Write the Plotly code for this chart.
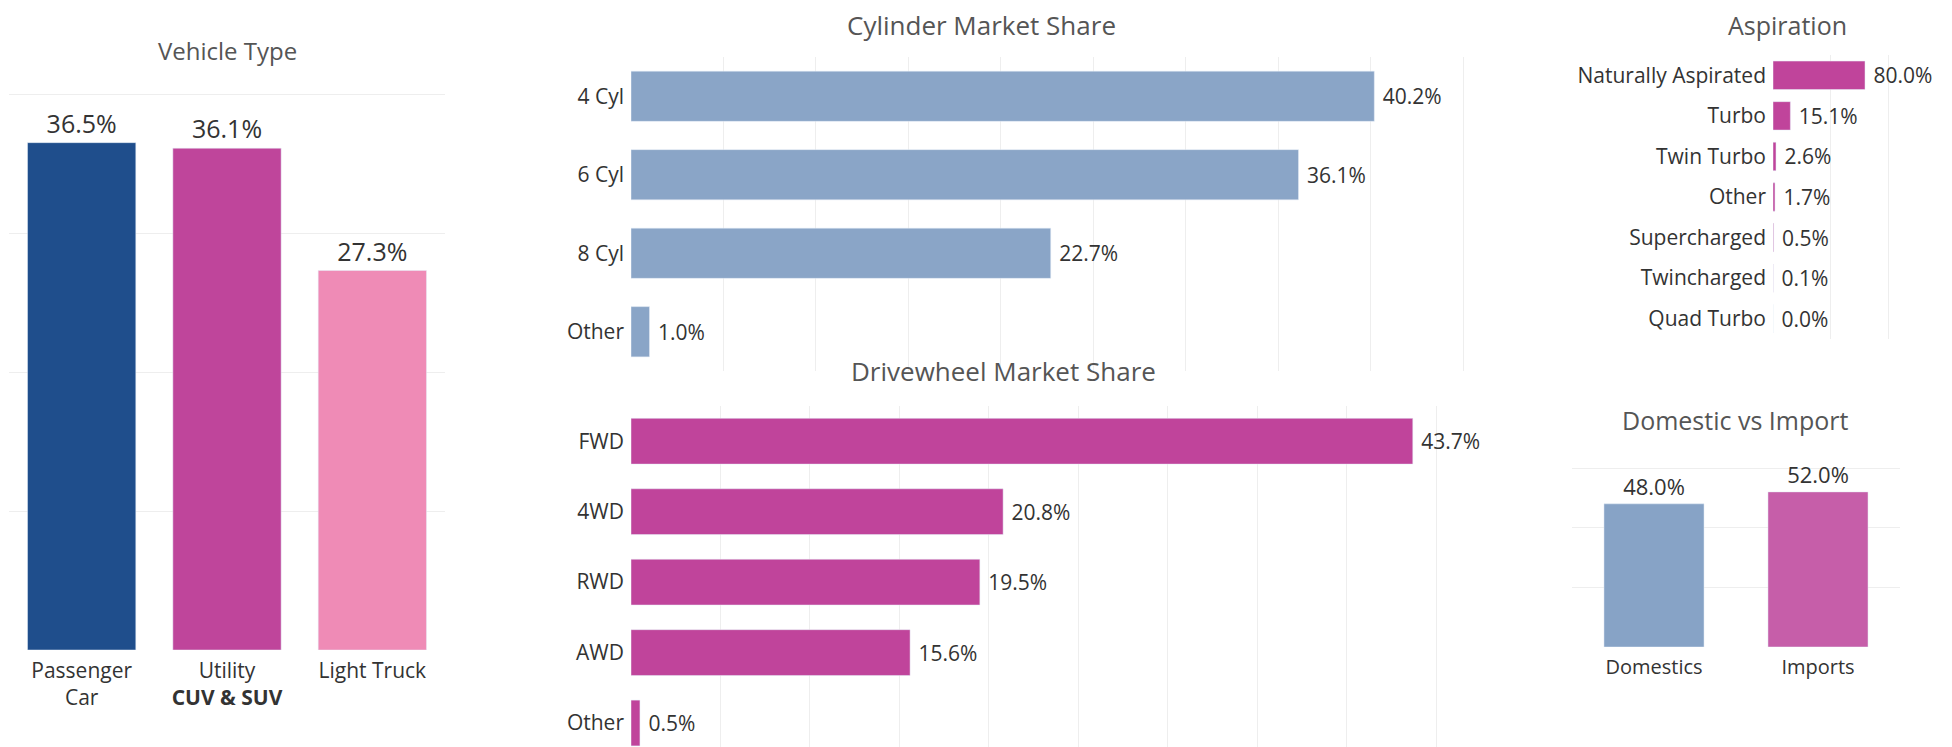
import plotly.graph_objects as go

# ---- data ----
vehicle_types = ["Passenger Car", "Utility", "Light Truck"]
vehicle_labels = ["Passenger<br>Car", "Utility<br><b>CUV & SUV</b>", "Light Truck"]
vehicle_share = [36.5, 36.1, 27.3]

cylinders = ["4 Cyl", "6 Cyl", "8 Cyl", "Other"]
cylinder_share = [40.2, 36.1, 22.7, 1.0]

drivewheels = ["FWD", "4WD", "RWD", "AWD", "Other"]
drivewheel_share = [43.7, 20.8, 19.5, 15.6, 0.5]

aspirations = ["Naturally Aspirated", "Turbo", "Twin Turbo", "Other",
               "Supercharged", "Twincharged", "Quad Turbo"]
aspiration_share = [80.0, 15.1, 2.6, 1.7, 0.5, 0.1, 0.0]

origins = ["Domestics", "Imports"]
origin_share = [48.0, 52.0]

# ---- styling ----
W, H = 1952, 747
OFF = 8  # default body margin of the html page
FONT = "Open Sans, Arial, sans-serif"
TEXT = "#333333"
TITLE = "#555555"
GRID = "#eeeeee"
vehicle_colors = ["#1f4e8c", "#bf459b", "#ef8bb6"]
origin_colors = ["#87a3c6", "#c65ea9"]


def px_x(p):
    return (p - OFF) / W


def px_y(p):
    return 1 - (p - OFF) / H


def pct(vals, pad=""):
    return [f"{pad}{v:.1f}%" for v in vals]


NB = "\u00a0"

fig = go.Figure()

fig.add_trace(go.Bar(
    x=vehicle_types, y=vehicle_share, marker_color=vehicle_colors, width=0.745,
    text=pct(vehicle_share), textposition="outside", constraintext="none",
    textfont=dict(size=25, color=TEXT), cliponaxis=False,
    xaxis="x", yaxis="y", hoverinfo="skip",
))
fig.add_trace(go.Bar(
    x=cylinder_share, y=cylinders, orientation="h", marker_color="#8aa5c7", width=0.64,
    text=pct(cylinder_share, NB), textposition="outside", constraintext="none",
    textfont=dict(size=21, color=TEXT), cliponaxis=False,
    xaxis="x2", yaxis="y2", hoverinfo="skip",
))
fig.add_trace(go.Bar(
    x=drivewheel_share, y=drivewheels, orientation="h", marker_color="#c0449b", width=0.65,
    text=pct(drivewheel_share, NB), textposition="outside", constraintext="none",
    textfont=dict(size=21, color=TEXT), cliponaxis=False,
    xaxis="x3", yaxis="y3", hoverinfo="skip",
))
fig.add_trace(go.Bar(
    x=aspiration_share, y=aspirations, orientation="h", marker_color="#c0449b", width=0.7,
    text=pct(aspiration_share, NB), textposition="outside", constraintext="none",
    textfont=dict(size=21, color=TEXT), cliponaxis=False,
    xaxis="x4", yaxis="y4", hoverinfo="skip",
))
fig.add_trace(go.Bar(
    x=origins, y=origin_share, marker_color=origin_colors, width=0.61,
    text=pct(origin_share), textposition="outside", constraintext="none",
    textfont=dict(size=22, color=TEXT), cliponaxis=False,
    xaxis="x5", yaxis="y5", hoverinfo="skip",
))

hidden = dict(showticklabels=False, ticks="", showline=False, zeroline=False)
grid = dict(showgrid=True, gridcolor=GRID, gridwidth=1)
cat_ticks = dict(showgrid=False, zeroline=False, showline=False, ticks="",
                 tickfont=dict(size=21, color=TEXT), ticklabelstandoff=6)

fig.update_layout(
    width=W, height=H,
    margin=dict(l=0, r=0, t=0, b=0),
    paper_bgcolor="white", plot_bgcolor="white",
    font=dict(family=FONT, color=TEXT),
    showlegend=False,
    # Vehicle Type: 0 at y=650, 40 at y=94
    xaxis=dict(domain=[px_x(9), px_x(445)], anchor="y", **cat_ticks,
               tickvals=vehicle_types, ticktext=vehicle_labels),
    yaxis=dict(domain=[px_y(650), px_y(650 - 41 * 13.9)], anchor="x", range=[0, 41],
               tickvals=[0, 10, 20, 30, 40], **hidden, **grid),
    # Cylinder: 0 at x=631, 45 at x=1463
    xaxis2=dict(domain=[px_x(631), px_x(631 + 45.5 * 18.49)], anchor="y2",
                range=[0, 45.5], tickvals=list(range(0, 46, 5)), **hidden, **grid),
    yaxis2=dict(domain=[px_y(371), px_y(57)], anchor="x2", autorange="reversed",
                **cat_ticks),
    # Drivewheel: 0 at x=631, 45 at x=1436
    xaxis3=dict(domain=[px_x(631), px_x(631 + 45.5 * 17.89)], anchor="y3",
                range=[0, 45.5], tickvals=list(range(0, 46, 5)), **hidden, **grid),
    yaxis3=dict(domain=[0, px_y(406)], anchor="x3",
                range=[(H + OFF - 441) / 70.5, -0.5], **cat_ticks),
    # Aspiration: 0 at x=1773, 100 at x=1888
    xaxis4=dict(domain=[px_x(1773), px_x(1773 + 102 * 1.15)], anchor="y4",
                range=[0, 102], tickvals=[0, 50, 100], **hidden, **grid),
    yaxis4=dict(domain=[px_y(339), px_y(55)], anchor="x4", autorange="reversed",
                **cat_ticks),
    # Domestic vs Import: 0 at y=647, 60 at y=468
    xaxis5=dict(domain=[px_x(1572), px_x(1900)], anchor="y5", **cat_ticks),
    yaxis5=dict(domain=[px_y(647), px_y(647 - 61 * 2.983)], anchor="x5", range=[0, 61],
                tickvals=[0, 20, 40, 60], **hidden, **grid),
)
fig.update_xaxes(tickfont=dict(size=20), selector=dict(anchor="y5"))

titles = [
    ("Vehicle Type", 227, 50, 24),
    ("Cylinder Market Share", 981, 25, 26),
    ("Drivewheel Market Share", 1003, 371, 26),
    ("Aspiration", 1787, 25, 25),
    ("Domestic vs Import", 1735, 420, 25),
]
for txt, cx, cy, size in titles:
    fig.add_annotation(text=txt, x=px_x(cx), y=px_y(cy), xref="paper", yref="paper",
                       xanchor="center", yanchor="middle", showarrow=False,
                       font=dict(size=size, color=TITLE, family=FONT))

fig.write_html("out.html")
